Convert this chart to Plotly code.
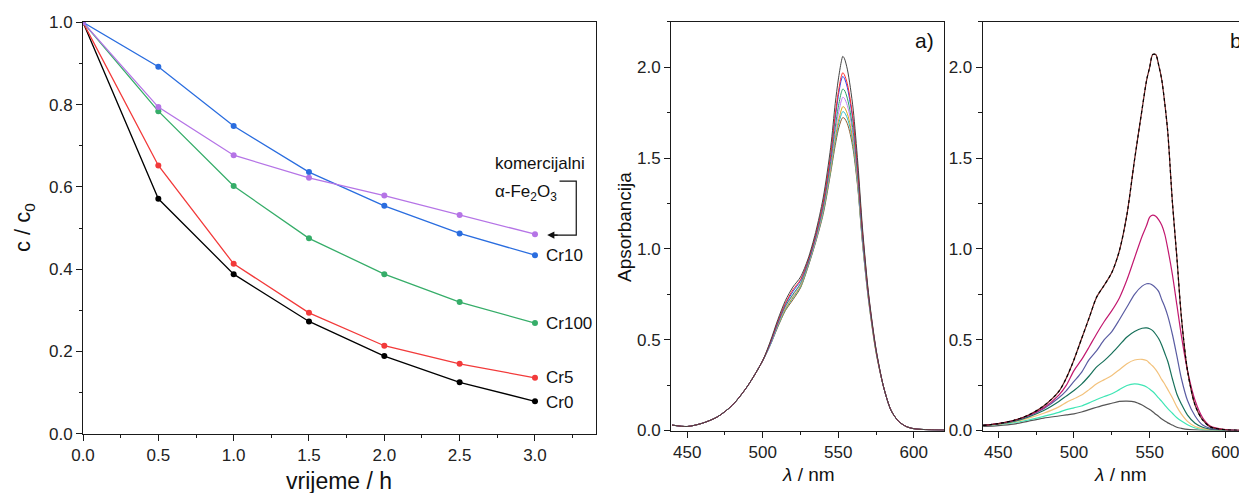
import plotly.graph_objects as go

# ---------------- Panel 1: c/c0 vs time ----------------
time_h = [0.0, 0.5, 1.0, 1.5, 2.0, 2.5, 3.0]
cr0 = [1.0, 0.571, 0.388, 0.273, 0.189, 0.125, 0.079]
cr5 = [1.0, 0.652, 0.413, 0.294, 0.214, 0.170, 0.136]
cr100 = [1.0, 0.784, 0.602, 0.475, 0.388, 0.320, 0.269]
cr10 = [1.0, 0.892, 0.748, 0.636, 0.554, 0.487, 0.434]
fe2o3 = [1.0, 0.794, 0.677, 0.622, 0.579, 0.532, 0.485]

# ---------------- Panel a: spectra ----------------
wl_a = [440, 450, 460, 470, 480, 490, 500, 505, 510, 515, 520, 525, 530, 535, 540, 545,
        548, 550, 552, 553, 554, 556, 558, 560, 563, 566, 570, 575, 580, 585, 590, 595,
        600, 610, 620]
a_black = [0.030, 0.022, 0.040, 0.075, 0.140, 0.245, 0.385, 0.490, 0.610, 0.715, 0.790, 0.845,
           0.945, 1.090, 1.280, 1.560, 1.800, 1.930, 2.030, 2.060, 2.050, 1.990, 1.890, 1.760,
           1.470, 1.120, 0.760, 0.450, 0.240, 0.110, 0.050, 0.022, 0.010, 0.004, 0.002]
a_red = [0.030, 0.022, 0.040, 0.075, 0.140, 0.245, 0.385, 0.485, 0.600, 0.700, 0.775, 0.830,
         0.935, 1.075, 1.255, 1.520, 1.740, 1.860, 1.950, 1.970, 1.960, 1.910, 1.820, 1.700,
         1.430, 1.100, 0.750, 0.445, 0.240, 0.110, 0.050, 0.022, 0.010, 0.004, 0.002]
a_blue = [0.030, 0.022, 0.040, 0.075, 0.140, 0.245, 0.385, 0.480, 0.595, 0.695, 0.765, 0.825,
          0.930, 1.070, 1.250, 1.510, 1.720, 1.840, 1.930, 1.950, 1.940, 1.890, 1.800, 1.690,
          1.420, 1.090, 0.745, 0.445, 0.240, 0.110, 0.050, 0.022, 0.010, 0.004, 0.002]
a_green = [0.030, 0.022, 0.040, 0.075, 0.140, 0.245, 0.385, 0.480, 0.590, 0.685, 0.750, 0.810,
           0.920, 1.060, 1.230, 1.480, 1.670, 1.780, 1.860, 1.880, 1.875, 1.830, 1.750, 1.640,
           1.390, 1.070, 0.740, 0.440, 0.240, 0.110, 0.050, 0.022, 0.010, 0.004, 0.002]
a_violet = [0.030, 0.022, 0.040, 0.075, 0.140, 0.245, 0.385, 0.475, 0.585, 0.680, 0.745, 0.805,
            0.915, 1.050, 1.220, 1.460, 1.640, 1.740, 1.815, 1.835, 1.830, 1.790, 1.720, 1.610,
            1.370, 1.060, 0.735, 0.440, 0.240, 0.110, 0.050, 0.022, 0.010, 0.004, 0.002]
a_orange = [0.030, 0.022, 0.040, 0.075, 0.140, 0.245, 0.385, 0.475, 0.580, 0.670, 0.735, 0.795,
            0.910, 1.045, 1.210, 1.440, 1.610, 1.700, 1.765, 1.783, 1.780, 1.745, 1.680, 1.580,
            1.350, 1.050, 0.730, 0.435, 0.240, 0.110, 0.050, 0.022, 0.010, 0.004, 0.002]
a_cyan = [0.030, 0.022, 0.040, 0.075, 0.140, 0.245, 0.385, 0.470, 0.575, 0.665, 0.730, 0.790,
          0.905, 1.040, 1.200, 1.430, 1.590, 1.680, 1.740, 1.756, 1.752, 1.720, 1.660, 1.560,
          1.340, 1.040, 0.725, 0.435, 0.240, 0.110, 0.050, 0.022, 0.010, 0.004, 0.002]
a_brown = [0.030, 0.022, 0.040, 0.075, 0.140, 0.245, 0.385, 0.470, 0.570, 0.660, 0.720, 0.785,
           0.900, 1.035, 1.190, 1.420, 1.570, 1.655, 1.710, 1.723, 1.720, 1.690, 1.630, 1.540,
           1.330, 1.035, 0.720, 0.430, 0.240, 0.110, 0.050, 0.022, 0.010, 0.004, 0.002]

# ---------------- Panel b: spectra ----------------
wl_b = [440, 450, 460, 470, 480, 490, 495, 500, 505, 510, 515, 520, 525, 530, 535, 540, 545,
        548, 550, 552, 554, 556, 558, 560, 562, 565, 568, 571, 575, 580, 585, 590, 600, 610, 620]
b_top = [0.028, 0.038, 0.055, 0.085, 0.135, 0.215, 0.290, 0.390, 0.505, 0.620, 0.735, 0.800,
         0.870, 0.990, 1.190, 1.490, 1.770, 1.930, 2.000, 2.070, 2.070, 2.010, 1.930, 1.800,
         1.640, 1.260, 0.950, 0.620, 0.330, 0.140, 0.058, 0.020, 0.004, 0.001, 0.000]
b_magenta = [0.028, 0.038, 0.055, 0.083, 0.125, 0.195, 0.250, 0.330, 0.390, 0.460, 0.533, 0.600,
             0.660, 0.730, 0.830, 0.950, 1.070, 1.130, 1.175, 1.186, 1.180, 1.160, 1.130, 1.080,
             1.000, 0.860, 0.690, 0.520, 0.330, 0.165, 0.070, 0.025, 0.005, 0.001, 0.000]
b_slate = [0.028, 0.037, 0.053, 0.080, 0.120, 0.180, 0.220, 0.270, 0.320, 0.390, 0.440, 0.500,
           0.545, 0.610, 0.680, 0.750, 0.795, 0.808, 0.808, 0.800, 0.785, 0.765, 0.720, 0.680,
           0.630, 0.530, 0.410, 0.285, 0.165, 0.080, 0.030, 0.012, 0.003, 0.001, 0.000]
b_green = [0.028, 0.036, 0.050, 0.075, 0.110, 0.160, 0.190, 0.220, 0.255, 0.300, 0.350, 0.385,
           0.425, 0.470, 0.515, 0.545, 0.563, 0.565, 0.560, 0.550, 0.530, 0.505, 0.470, 0.425,
           0.380, 0.285, 0.200, 0.145, 0.085, 0.040, 0.018, 0.008, 0.002, 0.000, 0.000]
b_orange = [0.028, 0.035, 0.047, 0.068, 0.095, 0.130, 0.155, 0.175, 0.195, 0.225, 0.257, 0.280,
            0.303, 0.335, 0.368, 0.388, 0.392, 0.385, 0.370, 0.355, 0.335, 0.310, 0.280, 0.255,
            0.225, 0.180, 0.130, 0.090, 0.050, 0.022, 0.010, 0.005, 0.002, 0.000, 0.000]
b_cyan = [0.028, 0.034, 0.043, 0.058, 0.078, 0.100, 0.115, 0.125, 0.135, 0.152, 0.171, 0.187,
          0.202, 0.225, 0.248, 0.257, 0.250, 0.240, 0.228, 0.215, 0.198, 0.178, 0.160, 0.140,
          0.120, 0.095, 0.070, 0.052, 0.032, 0.014, 0.006, 0.003, 0.001, 0.000, 0.000]
b_gray = [0.022, 0.027, 0.035, 0.052, 0.068, 0.080, 0.086, 0.092, 0.102, 0.115, 0.128, 0.140,
          0.150, 0.160, 0.162, 0.158, 0.140, 0.125, 0.115, 0.103, 0.090, 0.077, 0.063, 0.052,
          0.042, 0.030, 0.018, 0.012, 0.006, 0.003, 0.001, 0.000, 0.000, 0.000, 0.000]

FONT = "Arial, Liberation Sans, Helvetica, sans-serif"
AX = "#1a1a1a"

fig = go.Figure()

# Panel 1 traces
p1 = [
    ("Cr0", cr0, "#000000"),
    ("Cr5", cr5, "#f23a3a"),
    ("Cr100", cr100, "#36ad69"),
    ("Cr10", cr10, "#2a6ddf"),
    ("komercijalni α-Fe2O3", fe2o3, "#b574e6"),
]
for name, vals, col in p1:
    fig.add_trace(go.Scatter(x=time_h, y=vals, mode="lines+markers", name=name,
                             line=dict(color=col, width=1.3),
                             marker=dict(color=col, size=6),
                             xaxis="x", yaxis="y", showlegend=False))

# Panel a traces
pa = [
    (a_brown, "#8a5a2e"), (a_cyan, "#22b8c4"), (a_orange, "#d8a520"),
    (a_violet, "#c27cf2"), (a_green, "#2aa066"), (a_blue, "#2244ee"),
    (a_red, "#ff2a2a"), (a_black, "#444444"),
]
for vals, col in pa:
    fig.add_trace(go.Scatter(x=wl_a, y=vals, mode="lines",
                             line=dict(color=col, width=1, shape="spline", smoothing=0.8),
                             xaxis="x2", yaxis="y2", showlegend=False))

# Panel b traces
pb = [
    (b_gray, "#555555"), (b_cyan, "#3fe6b5"), (b_orange, "#f3c27c"),
    (b_green, "#17705a"), (b_slate, "#5a5ca2"), (b_magenta, "#c2186f"),
    (b_top, "#6a1f1f"),
]
for vals, col in pb:
    fig.add_trace(go.Scatter(x=wl_b, y=vals, mode="lines",
                             line=dict(color=col, width=1.2, shape="spline", smoothing=0.8),
                             xaxis="x3", yaxis="y3", showlegend=False))
fig.add_trace(go.Scatter(x=wl_b, y=b_top, mode="lines",
                         line=dict(color="#000000", width=1.2, dash="3px,3px", shape="spline", smoothing=0.8),
                         xaxis="x3", yaxis="y3", showlegend=False))

# The page has an 8px body margin, so the figure is drawn 8px in and sized to fit the window.
OX, OY = 8, 8
FW, FH = 1247 - OX, 493 - OY


def px_x(a, b):
    return [(a - OX) / FW, min(1.0, (b - OX) / FW)]


def px_y(top, bottom):
    return [(FH - (bottom - OY)) / FH, (FH - (top - OY)) / FH]


def pxp(x, y):
    return (x - OX) / FW, (FH - (y - OY)) / FH


tickfont = dict(family=FONT, size=17, color="#222")
common = dict(showline=True, linecolor=AX, linewidth=1, ticks="outside", ticklen=6,
              tickcolor=AX, tickwidth=1, showgrid=False, zeroline=False, tickfont=tickfont,
              automargin=False)

layout = dict(
    width=FW, height=FH, autosize=False,
    margin=dict(l=0, r=0, t=0, b=0),
    paper_bgcolor="white", plot_bgcolor="white",
    font=dict(family=FONT, color="#111"),
    xaxis=dict(domain=px_x(83, 596), range=[0, 3.405], dtick=0.5, tick0=0, tickformat=".1f",
               mirror=True, anchor="y",
               minor=dict(dtick=0.25, ticks="outside", ticklen=3.5, tickcolor=AX),
               **common),
    yaxis=dict(domain=px_y(22.3, 433.8), range=[0, 1.0], dtick=0.2, tick0=0, tickformat=".1f",
               mirror=True, anchor="x",
               minor=dict(dtick=0.1, ticks="outside", ticklen=3.5, tickcolor=AX),
               **common),
    xaxis2=dict(domain=px_x(671, 944), range=[439.3, 620], dtick=50, tick0=0, mirror=True, anchor="y2",
                minor=dict(dtick=25, ticks="outside", ticklen=3.5, tickcolor=AX),
                **common),
    yaxis2=dict(domain=px_y(21.9, 430.5), range=[0, 2.25], dtick=0.5, tick0=0, tickformat=".1f",
                mirror=True, anchor="x2",
                minor=dict(dtick=0.25, ticks="outside", ticklen=3.5, tickcolor=AX),
                **common),
    xaxis3=dict(domain=px_x(982.7, 1247), range=[439.7, 614.3], dtick=50, tick0=0, mirror=True, anchor="y3",
                minor=dict(dtick=25, ticks="outside", ticklen=3.5, tickcolor=AX),
                **common),
    yaxis3=dict(domain=px_y(21.9, 430.5), range=[0, 2.25], dtick=0.5, tick0=0, tickformat=".1f",
                mirror=False, anchor="x3",
                minor=dict(dtick=0.25, ticks="outside", ticklen=3.5, tickcolor=AX),
                **common),
)
fig.update_layout(**layout)


# axis titles as annotations
def ptxt(x, y, text, size, angle=0, xanchor="center"):
    px, py = pxp(x, y)
    fig.add_annotation(x=px, y=py, xref="paper", yref="paper", text=text, showarrow=False,
                       xanchor=xanchor, yanchor="middle", textangle=angle,
                       font=dict(family=FONT, size=size, color="#111"))


ptxt(339, 481, "vrijeme / h", 23)
ptxt(24, 228, "c / c<sub>0</sub>", 22, -90)
ptxt(808, 474, "<i>λ</i> / nm", 19)
ptxt(1120, 474, "<i>λ</i> / nm", 19)
ptxt(625, 227, "Apsorbancija", 19, -90)

lab = dict(family=FONT, size=17, color="#111")
labels = [("Cr10", 0.433), ("Cr100", 0.2685), ("Cr5", 0.136), ("Cr0", 0.075)]
for t, yv in labels:
    fig.add_annotation(x=3.057, y=yv, xref="x", yref="y", text=t, showarrow=False,
                       xanchor="left", yanchor="middle", font=lab)
fig.add_annotation(x=2.724, y=0.657, xref="x", yref="y", text="komercijalni", showarrow=False,
                   xanchor="left", yanchor="middle", font=lab)
fig.add_annotation(x=2.724, y=0.585, xref="x", yref="y", text="α-Fe<sub>2</sub>O<sub>3</sub>",
                   showarrow=False, xanchor="left", yanchor="middle", font=lab)
# bracket + arrow
fig.add_shape(type="path", path="M 3.163,0.614 L 3.274,0.614 L 3.274,0.483 L 3.11,0.483",
              xref="x", yref="y", line=dict(color="#111", width=1.2))
fig.add_annotation(x=3.081, y=0.483, ax=3.16, ay=0.483, xref="x", yref="y", axref="x", ayref="y",
                   text="", showarrow=True, arrowhead=2, arrowsize=1.2, arrowwidth=1.2, arrowcolor="#111")

# panel labels
ptxt(925, 41, "a)", 21)
ptxt(1228, 41, "b)", 21, xanchor="left")

fig.write_html("out.html")
